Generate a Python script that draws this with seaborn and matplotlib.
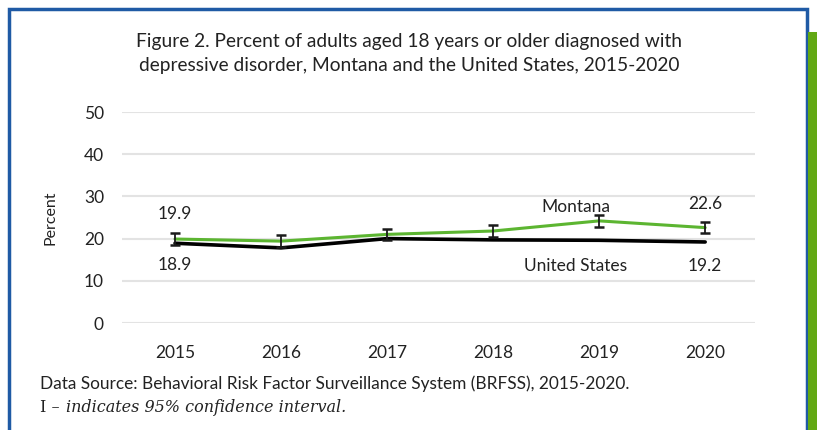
import pandas as pd
import matplotlib.pyplot as plt
from matplotlib.patches import Rectangle
import seaborn as sns

years = [2015, 2016, 2017, 2018, 2019, 2020]
montana = [19.9, 19.4, 21.0, 21.8, 24.2, 22.6]
montana_ci = [1.4, 1.4, 1.3, 1.5, 1.4, 1.3]
united_states = [18.9, 17.8, 20.0, 19.7, 19.6, 19.2]
y_ticks = [0, 10, 20, 30, 40, 50]

df = pd.DataFrame({'year': years, 'Montana': montana, 'United States': united_states})

sns.set_style('white')
plt.rcParams['font.family'] = ['Lato', 'DejaVu Sans']

fig = plt.figure(figsize=(8.17, 4.30), dpi=100)
ax = fig.add_axes([122 / 817, 1 - 323 / 430, (755 - 122) / 817, (323 - 112) / 430])

# Rahmen (unten offen) und grüner Balken rechts
fig.patches.append(Rectangle((8.5 / 817, -0.1), (798.5 / 817), 1.1 - 8.5 / 430, transform=fig.transFigure,
                             fill=False, edgecolor='#1f5aa5', linewidth=2.5, zorder=0))
fig.patches.append(Rectangle((808 / 817, 0), 9 / 817, 1 - 32 / 430, transform=fig.transFigure,
                             facecolor='#62a814', edgecolor='none', zorder=1))

sns.lineplot(data=df, x='year', y='United States', color='black', linewidth=2.6, ax=ax, zorder=3)
sns.lineplot(data=df, x='year', y='Montana', color='#5cb531', linewidth=2.2, ax=ax, zorder=4)
ax.errorbar(years, montana, yerr=montana_ci, fmt='none', ecolor='#1a1a1a',
            elinewidth=1.3, capsize=3.5, capthick=1.8, zorder=5)

ax.set_xlim(2014.5, 2020.47)
ax.set_ylim(0, 50)
ax.set_yticks(y_ticks)
ax.set_xticks(years)
ax.set_xticklabels([str(y) for y in years])
ax.grid(axis='y', color='#e3e3e3', linewidth=1.5)
ax.set_axisbelow(True)
sns.despine(ax=ax, left=True, bottom=True)
ax.tick_params(axis='y', length=0, pad=13, labelsize=12.5, colors='#222222')
ax.tick_params(axis='x', length=0, pad=16, labelsize=12.5, colors='#222222')
ax.set_xlabel('')
ax.set_ylabel('Percent', fontsize=11.5, color='#222222', labelpad=19)

# Werte und Serienbeschriftungen
ax.annotate('19.9', (years[0], montana[0]), xytext=(0, 18), textcoords='offset points',
            ha='center', va='center', fontsize=12.5, color='#222222')
ax.annotate('18.9', (years[0], united_states[0]), xytext=(0, -16), textcoords='offset points',
            ha='center', va='center', fontsize=12.5, color='#222222')
ax.annotate('22.6', (years[-1], montana[-1]), xytext=(0, 17), textcoords='offset points',
            ha='center', va='center', fontsize=12.5, color='#222222')
ax.annotate('19.2', (years[-1], united_states[-1]), xytext=(0, -17), textcoords='offset points',
            ha='center', va='center', fontsize=12.5, color='#222222')
ax.text(2018.78, 27.5, 'Montana', ha='center', va='center', fontsize=12.5, color='#222222')
ax.text(2018.78, 13.5, 'United States', ha='center', va='center', fontsize=12.5, color='#222222')

fig.text(409 / 817, 1 - 42 / 430, 'Figure 2. Percent of adults aged 18 years or older diagnosed with',
         ha='center', va='center', fontsize=13.8, color='#222222')
fig.text(409 / 817, 1 - 66 / 430, 'depressive disorder, Montana and the United States, 2015-2020',
         ha='center', va='center', fontsize=13.8, color='#222222')

fig.text(40 / 817, 1 - 384 / 430, 'Data Source: Behavioral Risk Factor Surveillance System (BRFSS), 2015-2020.',
         ha='left', va='center', fontsize=12.4, color='#222222')
fig.text(40 / 817, 1 - 408 / 430, 'I \u2013',
         ha='left', va='center', fontsize=11.5, color='#222222', family=['DejaVu Serif'])
fig.text(66 / 817, 1 - 408 / 430, 'indicates 95% confidence interval.',
         ha='left', va='center', fontsize=11.5, color='#222222',
         family=['DejaVu Serif'], style='italic')

fig.savefig('out.png', dpi=100)
